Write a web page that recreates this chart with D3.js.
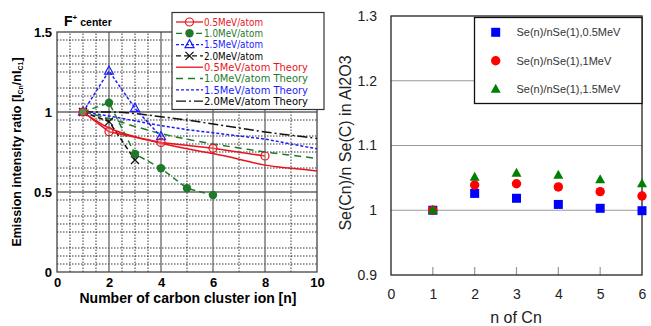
<!DOCTYPE html>
<html>
<head>
<meta charset="utf-8">
<script src="https://cdn.jsdelivr.net/npm/d3@7"></script>
<style>
  body { margin: 0; background: #fff; }
  svg { display: block; }
</style>
</head>
<body>
<div id="chart"></div>
<script>
// ---- left panel data (F+ center emission ratio) ----
const nData05 = [1, 2, 4, 6, 8];
const yData05 = [1.0, 0.877, 0.81, 0.773, 0.725];
const nData10 = [1, 2, 3, 4, 5, 6];
const yData10 = [1.0, 1.058, 0.738, 0.648, 0.523, 0.481];
const nData15 = [1, 2, 3, 4];
const yData15 = [1.0, 1.256, 1.023, 0.846];
const nData20 = [1, 2, 3];
const yData20 = [1.0, 0.94, 0.70];

const nTheory = [1, 2, 3, 4, 5, 6, 7, 8, 9, 10];
const yTheory05 = [1.0, 0.90, 0.845, 0.805, 0.77, 0.74, 0.705, 0.668, 0.648, 0.632];
const yTheory10 = [1.0, 0.96, 0.91, 0.865, 0.83, 0.80, 0.775, 0.75, 0.73, 0.71];
const yTheory15 = [1.0, 0.975, 0.945, 0.915, 0.89, 0.87, 0.85, 0.83, 0.80, 0.77];
const yTheory20 = [1.0, 1.0, 0.99, 0.97, 0.95, 0.925, 0.90, 0.875, 0.855, 0.835];

const leftXTicks = [0, 2, 4, 6, 8, 10];
const leftXMinor = [0.5, 1, 1.5, 2.5, 3, 3.5, 5, 7, 9];
const leftYTicks = [0, 0.5, 1, 1.5];
const leftYMinor = [0.05, 0.1, 0.15, 0.25, 0.3, 0.35, 0.45,
                    0.55, 0.6, 0.65, 0.75, 0.8, 0.85, 0.95,
                    1.05, 1.1, 1.15, 1.25, 1.3, 1.35, 1.45];

// ---- right panel data (Se ratio in Al2O3) ----
const nCn = [1, 2, 3, 4, 5, 6];
const se05 = [1.0, 1.026, 1.0185, 1.009, 1.003, 0.9993];
const se10 = [1.0, 1.039, 1.041, 1.036, 1.0287, 1.022];
const se15 = [1.0, 1.051, 1.057, 1.054, 1.047, 1.041];
const rightXTicks = [0, 1, 2, 3, 4, 5, 6];
const rightYTicks = [0.9, 1, 1.1, 1.2, 1.3];

const svg = d3.select('#chart').append('svg')
    .attr('width', 651)
    .attr('height', 326);

// ===================== left panel =====================
let lx = d3.scaleLinear().domain([0, 10]).range([57, 317]);
let ly = d3.scaleLinear().domain([0, 1.5]).range([272, 32]);
let left = svg.append('g').attr('font-family', 'Liberation Sans, Arial, sans-serif');

// minor dotted grid
left.selectAll('.vminor').data(leftXMinor).enter().append('line')
    .attr('x1', function (d) { return lx(d); }).attr('x2', function (d) { return lx(d); })
    .attr('y1', ly(0)).attr('y2', ly(1.5))
    .attr('stroke', '#000').attr('stroke-width', 0.8).attr('stroke-dasharray', '1.5,1.5');
left.selectAll('.hminor').data(leftYMinor).enter().append('line')
    .attr('x1', lx(0)).attr('x2', lx(10))
    .attr('y1', function (d) { return ly(d); }).attr('y2', function (d) { return ly(d); })
    .attr('stroke', '#000').attr('stroke-width', 0.8).attr('stroke-dasharray', '1.5,1.5');
// major solid grid
left.selectAll('.vmajor').data([2, 4, 6, 8]).enter().append('line')
    .attr('x1', function (d) { return lx(d); }).attr('x2', function (d) { return lx(d); })
    .attr('y1', ly(0)).attr('y2', ly(1.5))
    .attr('stroke', '#666').attr('stroke-width', 1.3);
left.selectAll('.hmajor').data([0.5, 1]).enter().append('line')
    .attr('x1', lx(0)).attr('x2', lx(10))
    .attr('y1', function (d) { return ly(d); }).attr('y2', function (d) { return ly(d); })
    .attr('stroke', '#666').attr('stroke-width', 1.3);
left.append('rect')
    .attr('x', lx(0)).attr('y', ly(1.5))
    .attr('width', lx(10) - lx(0)).attr('height', ly(0) - ly(1.5))
    .attr('fill', 'none').attr('stroke', '#444').attr('stroke-width', 1.3);

// axes labels
left.append('g')
    .attr('transform', 'translate(0,' + ly(0) + ')')
    .call(d3.axisBottom(lx).tickValues(leftXTicks).tickSize(0).tickPadding(6).tickFormat(d3.format('d')))
    .call(function (g) { g.select('.domain').remove(); })
    .selectAll('text').attr('font-size', 13).attr('font-weight', 'bold').attr('fill', '#000')
    .attr('font-family', 'Liberation Sans, Arial, sans-serif');
left.append('g')
    .attr('transform', 'translate(' + lx(0) + ',0)')
    .call(d3.axisLeft(ly).tickValues(leftYTicks).tickSize(0).tickPadding(5).tickFormat(function (d) { return d === 0 ? '0' : d3.format('')(d); }))
    .call(function (g) { g.select('.domain').remove(); })
    .selectAll('text').attr('font-size', 13).attr('font-weight', 'bold').attr('fill', '#000')
    .attr('font-family', 'Liberation Sans, Arial, sans-serif');

left.append('text')
    .attr('x', 188).attr('y', 303)
    .attr('text-anchor', 'middle').attr('font-size', 14).attr('font-weight', 'bold')
    .text('Number of carbon cluster ion [n]');

let yl = left.append('text')
    .attr('transform', 'translate(21,152) rotate(-90)')
    .attr('text-anchor', 'middle').attr('font-size', 12.5).attr('font-weight', 'bold');
yl.append('tspan').text('Emission intensity ratio [I');
yl.append('tspan').attr('font-size', 7).attr('dy', 2).text('Cn');
yl.append('tspan').attr('dy', -2).text('/nI');
yl.append('tspan').attr('font-size', 7).attr('dy', 2).text('C1');
yl.append('tspan').attr('dy', -2).text(']');

let ttl = left.append('text').attr('x', 64).attr('y', 26).attr('font-weight', 'bold');
ttl.append('tspan').attr('font-size', 14).text('F');
ttl.append('tspan').attr('font-size', 8).attr('dy', -6).text('+');
ttl.append('tspan').attr('font-size', 10.5).attr('dy', 6).attr('dx', 3).text('center');

const red = '#e8141c', green = '#1e7a2a', blue = '#1b1bff', black = '#111';

let series = [
    { name: '0.5MeV/atom', n: nData05, y: yData05, color: red, dash: null, marker: 'ocircle', theory: false },
    { name: '1.0MeV/atom', n: nData10, y: yData10, color: green, dash: '6,4', marker: 'fcircle', theory: false },
    { name: '1.5MeV/atom', n: nData15, y: yData15, color: blue, dash: '3,2', marker: 'triangle', theory: false },
    { name: '2.0MeV/atom', n: nData20, y: yData20, color: black, dash: '5,3', marker: 'cross', theory: false },
    { name: '0.5MeV/atom Theory', n: nTheory, y: yTheory05, color: red, dash: null, theory: true },
    { name: '1.0MeV/atom Theory', n: nTheory, y: yTheory10, color: green, dash: '7,5', theory: true },
    { name: '1.5MeV/atom Theory', n: nTheory, y: yTheory15, color: blue, dash: '3,2', theory: true },
    { name: '2.0MeV/atom Theory', n: nTheory, y: yTheory20, color: black, dash: '10,3,2,3', theory: true }
];

function drawMarker(g, type, x, y, color) {
    if (type === 'ocircle') {
        g.append('circle').attr('cx', x).attr('cy', y).attr('r', 4).attr('fill', '#fff').attr('fill-opacity', 0.2)
            .attr('stroke', color).attr('stroke-width', 1.2);
    } else if (type === 'fcircle') {
        g.append('circle').attr('cx', x).attr('cy', y).attr('r', 4.2).attr('fill', color);
    } else if (type === 'triangle') {
        g.append('path').attr('d', 'M' + x + ',' + (y - 5) + 'L' + (x + 4.5) + ',' + (y + 3) + 'L' + (x - 4.5) + ',' + (y + 3) + 'Z')
            .attr('fill', 'none').attr('stroke', color).attr('stroke-width', 1.2);
    } else if (type === 'cross') {
        g.append('path').attr('d', 'M' + (x - 4) + ',' + (y - 4) + 'L' + (x + 4) + ',' + (y + 4) + 'M' + (x + 4) + ',' + (y - 4) + 'L' + (x - 4) + ',' + (y + 4))
            .attr('stroke', color).attr('stroke-width', 1.3);
    }
}

let plot = left.append('g');
// theory curves first, data on top
series.slice().reverse().forEach(function (s) {
    let pts = s.n.map(function (d, i) { return [d, s.y[i]]; });
    let line = d3.line()
        .x(function (d) { return lx(d[0]); })
        .y(function (d) { return ly(d[1]); })
        .curve(s.theory ? d3.curveMonotoneX : d3.curveLinear);
    plot.append('path')
        .attr('d', line(pts))
        .attr('fill', 'none')
        .attr('stroke', s.color)
        .attr('stroke-width', 1.5)
        .attr('stroke-dasharray', s.dash);
    if (!s.theory) {
        pts.forEach(function (p) { drawMarker(plot, s.marker, lx(p[0]), ly(p[1]), s.color); });
    }
});

// left legend
let leg = left.append('g');
leg.append('rect').attr('x', 172).attr('y', 12.5).attr('width', 152).attr('height', 97)
    .attr('fill', '#fff').attr('stroke', '#333').attr('stroke-width', 1.2);
series.forEach(function (s, i) {
    let yy = 22 + i * 11.3;
    leg.append('line').attr('x1', 176).attr('x2', 203).attr('y1', yy).attr('y2', yy)
        .attr('stroke', s.color).attr('stroke-width', 1.3).attr('stroke-dasharray', s.dash);
    if (!s.theory) drawMarker(leg, s.marker, 189.5, yy, s.color);
    leg.append('text').attr('x', 204).attr('y', yy + 3.8)
        .attr('font-size', 10.5).attr('fill', s.color === black ? '#000' : s.color)
        .attr('font-family', 'DejaVu Sans, sans-serif')
        .attr('textLength', s.theory ? 104 : 59).attr('lengthAdjust', 'spacingAndGlyphs')
        .text(s.name);
});

// ===================== right panel =====================
let rx = d3.scaleLinear().domain([0, 6]).range([391, 642]);
let ry = d3.scaleLinear().domain([0.9, 1.3]).range([275, 16]);
let right = svg.append('g').attr('font-family', 'Liberation Sans, Arial, sans-serif');

right.selectAll('.rgrid').data([1, 1.1, 1.2]).enter().append('line')
    .attr('x1', rx(0)).attr('x2', rx(6))
    .attr('y1', function (d) { return ry(d); }).attr('y2', function (d) { return ry(d); })
    .attr('stroke', '#999').attr('stroke-width', 1.2);
right.selectAll('.rtick').data(rightXTicks.slice(1, 6)).enter().append('line')
    .attr('x1', function (d) { return rx(d); }).attr('x2', function (d) { return rx(d); })
    .attr('y1', ry(0.9)).attr('y2', ry(0.9) - 8)
    .attr('stroke', '#999').attr('stroke-width', 1.2);
right.append('rect')
    .attr('x', rx(0)).attr('y', ry(1.3))
    .attr('width', rx(6) - rx(0)).attr('height', ry(0.9) - ry(1.3))
    .attr('fill', 'none').attr('stroke', '#222').attr('stroke-width', 1.3);

right.append('g')
    .attr('transform', 'translate(0,' + ry(0.9) + ')')
    .call(d3.axisBottom(rx).tickValues(rightXTicks).tickSize(0).tickPadding(14).tickFormat(d3.format('d')))
    .call(function (g) { g.select('.domain').remove(); })
    .selectAll('text').attr('font-size', 14).attr('fill', '#222')
    .attr('font-family', 'Liberation Sans, Arial, sans-serif');
right.append('g')
    .attr('transform', 'translate(' + rx(0) + ',0)')
    .call(d3.axisLeft(ry).tickValues(rightYTicks).tickSize(0).tickPadding(14).tickFormat(function (d) { return d === 1 ? '1' : d3.format('.1f')(d); }))
    .call(function (g) { g.select('.domain').remove(); })
    .selectAll('text').attr('font-size', 14).attr('fill', '#222')
    .attr('font-family', 'Liberation Sans, Arial, sans-serif');

right.append('text')
    .attr('x', 516).attr('y', 323)
    .attr('text-anchor', 'middle').attr('font-size', 16).attr('fill', '#222')
    .text('n of Cn');
right.append('text')
    .attr('transform', 'translate(351,143) rotate(-90)')
    .attr('text-anchor', 'middle').attr('font-size', 16).attr('fill', '#222')
    .text('Se(Cn)/n Se(C) in Al2O3');

const cBlue = '#0000ff', cRed = '#ff0000', cGreen = '#008000';
function rMarker(g, type, x, y) {
    if (type === 'square') {
        g.append('rect').attr('x', x - 4.5).attr('y', y - 4.5).attr('width', 9).attr('height', 9).attr('fill', cBlue);
    } else if (type === 'circle') {
        g.append('circle').attr('cx', x).attr('cy', y).attr('r', 4.7).attr('fill', cRed);
    } else {
        g.append('path').attr('d', 'M' + x + ',' + (y - 5.5) + 'L' + (x + 5) + ',' + (y + 3.5) + 'L' + (x - 5) + ',' + (y + 3.5) + 'Z')
            .attr('fill', cGreen);
    }
}
let rSeries = [
    { name: 'Se(n)/nSe(1),0.5MeV', y: se05, marker: 'square' },
    { name: 'Se(n)/nSe(1),1MeV', y: se10, marker: 'circle' },
    { name: 'Se(n)/nSe(1),1.5MeV', y: se15, marker: 'triangle' }
];
let rpts = right.append('g');
rSeries.forEach(function (s) {
    nCn.forEach(function (n, i) { rMarker(rpts, s.marker, rx(n), ry(s.y[i])); });
});

let rleg = right.append('g');
rleg.append('rect').attr('x', 474.5).attr('y', 17.5).attr('width', 167.5).attr('height', 86)
    .attr('fill', '#fff').attr('stroke', '#111').attr('stroke-width', 1.3);
rSeries.forEach(function (s, i) {
    let yy = 32.3 + i * 28.5;
    rMarker(rleg, s.marker, 495.7, yy);
    rleg.append('text').attr('x', 516.5).attr('y', yy + 4)
        .attr('font-size', 11).attr('fill', '#333')
        .text(s.name);
});
</script>
</body>
</html>
